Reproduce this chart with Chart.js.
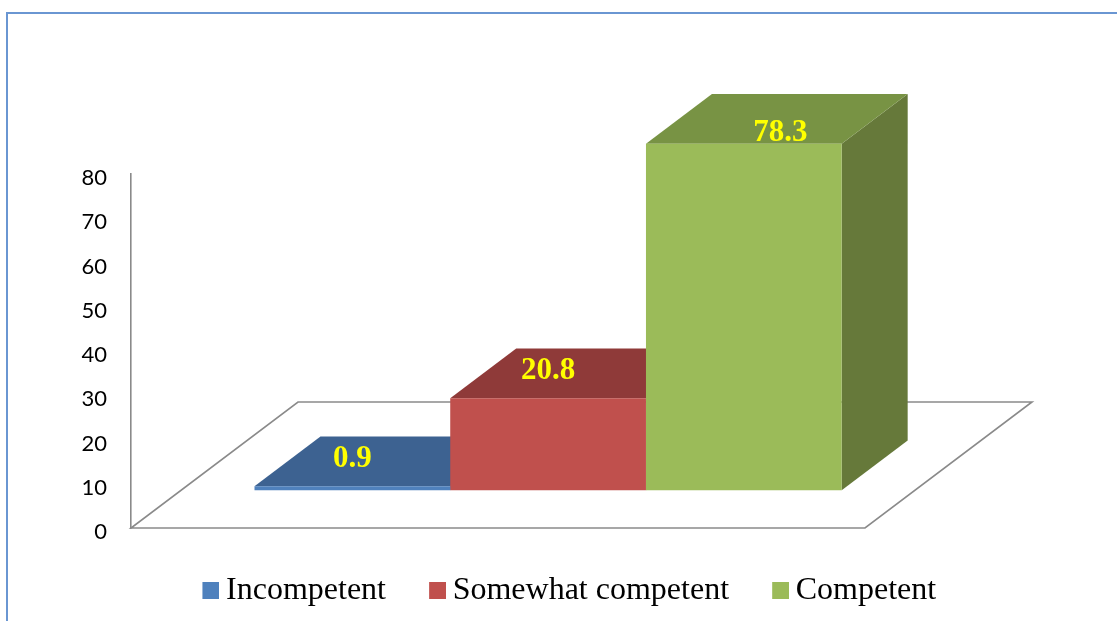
<!DOCTYPE html>
<html><head><meta charset="utf-8">
<script src="https://cdn.jsdelivr.net/npm/chart.js@4/dist/chart.umd.min.js"></script>
<style>
html,body{margin:0;padding:0;background:#fff;}
#wrap{position:relative;width:1117px;height:621px;overflow:hidden;background:#fff;}
#frame{position:absolute;left:5.5px;top:11.5px;width:1200px;height:700px;border-left:2px solid #6a96d2;border-top:2px solid #6a96d2;}
canvas{position:absolute;left:0;top:0;}
</style></head><body>
<div id="wrap"><div id="frame"></div><canvas id="c" width="1117" height="621"></canvas></div>
<script>
// ---- data ----
const categories = [''];
const seriesNames = ['Incompetent', 'Somewhat competent', 'Competent'];
const seriesValues = [0.9, 20.8, 78.3];
const yTicks = [0, 10, 20, 30, 40, 50, 60, 70, 80];

// ---- styles ----
const frontColors = ['#4F81BD', '#C0504D', '#9BBB59'];
const topColors = ['#3D6291', '#8F3A39', '#789344'];
const sideColors = ['#375884', '#7F3332', '#66793A'];
const DEPTH = {x: 167, y: -126};   // floor depth vector
const FRONT = 0.3, BAR = 0.395;      // bar plane offset & bar depth as fraction of floor depth
const labelShift = [[0, -19], [0, -19], [36.5, -3]];

function makeIcon(color) {
  const c = document.createElement('canvas');
  c.width = 23; c.height = 17;
  const g = c.getContext('2d');
  g.fillStyle = color;
  g.fillRect(6, 0, 17, 17);
  return c;
}
const legendIcons = frontColors.map(makeIcon);

const bars3d = {
  id: 'bars3d',
  beforeDatasetsDraw(chart) {
    const ctx = chart.ctx, a = chart.chartArea;
    ctx.save();
    ctx.strokeStyle = '#8a8a8a';
    ctx.lineWidth = 1.6;
    ctx.beginPath();
    ctx.moveTo(a.left, a.bottom);
    ctx.lineTo(a.right, a.bottom);
    ctx.lineTo(a.right + DEPTH.x, a.bottom + DEPTH.y);
    ctx.lineTo(a.left + DEPTH.x, a.bottom + DEPTH.y);
    ctx.closePath();
    ctx.stroke();
    ctx.restore();
    const ox = DEPTH.x * FRONT, oy = DEPTH.y * FRONT, bx = DEPTH.x * BAR, by = DEPTH.y * BAR;
    ctx.save();
    ctx.translate(ox, oy);
    chart.data.datasets.forEach((ds, i) => {
      const meta = chart.getDatasetMeta(i);
      meta.data.forEach(el => {
        const {x, y, base, width} = el.getProps(['x', 'y', 'base', 'width'], true);
        const l = x - width / 2, r = x + width / 2;
        ctx.fillStyle = sideColors[i];
        ctx.beginPath();
        ctx.moveTo(r, y); ctx.lineTo(r + bx, y + by); ctx.lineTo(r + bx, base + by); ctx.lineTo(r, base);
        ctx.closePath(); ctx.fill();
        ctx.fillStyle = topColors[i];
        ctx.beginPath();
        ctx.moveTo(l, y); ctx.lineTo(r, y); ctx.lineTo(r + bx, y + by); ctx.lineTo(l + bx, y + by);
        ctx.closePath(); ctx.fill();
      });
    });
    // translation stays active while Chart.js draws the front faces
  },
  afterDatasetsDraw(chart) {
    const ctx = chart.ctx;
    ctx.restore();
    const ox = DEPTH.x * FRONT, oy = DEPTH.y * FRONT;
    ctx.save();
    ctx.font = 'bold 31px "Liberation Serif", "Times New Roman", serif';
    ctx.fillStyle = '#FFFF00';
    ctx.textAlign = 'center';
    ctx.textBaseline = 'alphabetic';
    chart.data.datasets.forEach((ds, i) => {
      const meta = chart.getDatasetMeta(i);
      meta.data.forEach((el, j) => {
        const {x, y} = el.getProps(['x', 'y'], true);
        ctx.fillText(String(ds.data[j]), x + ox + labelShift[i][0], y + oy + labelShift[i][1]);
      });
    });
    ctx.restore();
  }
};

new Chart(document.getElementById('c'), {
  type: 'bar',
  data: {
    labels: categories,
    datasets: seriesNames.map((n, i) => ({
      label: n,
      data: [seriesValues[i]],
      backgroundColor: frontColors[i],
      borderWidth: 0,
      clip: false,
      categoryPercentage: 0.8,
      barPercentage: 1.0
    }))
  },
  options: {
    responsive: false,
    animation: false,
    events: [],
    layout: {padding: {left: 25, right: 0, top: 174, bottom: 4.5}},
    scales: {
      x: {display: false},
      y: {
        type: 'linear', position: 'left', min: 0, max: 80,
        afterBuildTicks(s) { s.ticks = yTicks.map(v => ({value: v})); },
        ticks: {padding: 24, labelOffset: 4, color: '#000', font: {family: 'Lato', size: 22}},
        grid: {display: false, drawTicks: false},
        border: {display: true, color: '#8a8a8a', width: 1.6},
        afterFit(s) { s.width = 106; }
      },
      yR: {
        type: 'linear', position: 'right', display: true,
        ticks: {display: false},
        grid: {display: false, drawTicks: false},
        border: {display: false},
        afterFit(s) { s.width = 252; }
      }
    },
    plugins: {
      tooltip: {enabled: false},
      legend: {
        position: 'bottom',
        labels: {
          font: {family: '"Liberation Serif", "Times New Roman", serif', size: 32},
          color: '#000',
          usePointStyle: true,
          pointStyleWidth: 4.2,
          boxHeight: 17,
          padding: 46.5,
          generateLabels(chart) {
            return chart.data.datasets.map((ds, i) => ({
              text: ds.label, fillStyle: frontColors[i], strokeStyle: frontColors[i],
              lineWidth: 0, hidden: false, datasetIndex: i, pointStyle: legendIcons[i]
            }));
          }
        }
      }
    }
  },
  plugins: [bars3d]
});
</script>
</body></html>
